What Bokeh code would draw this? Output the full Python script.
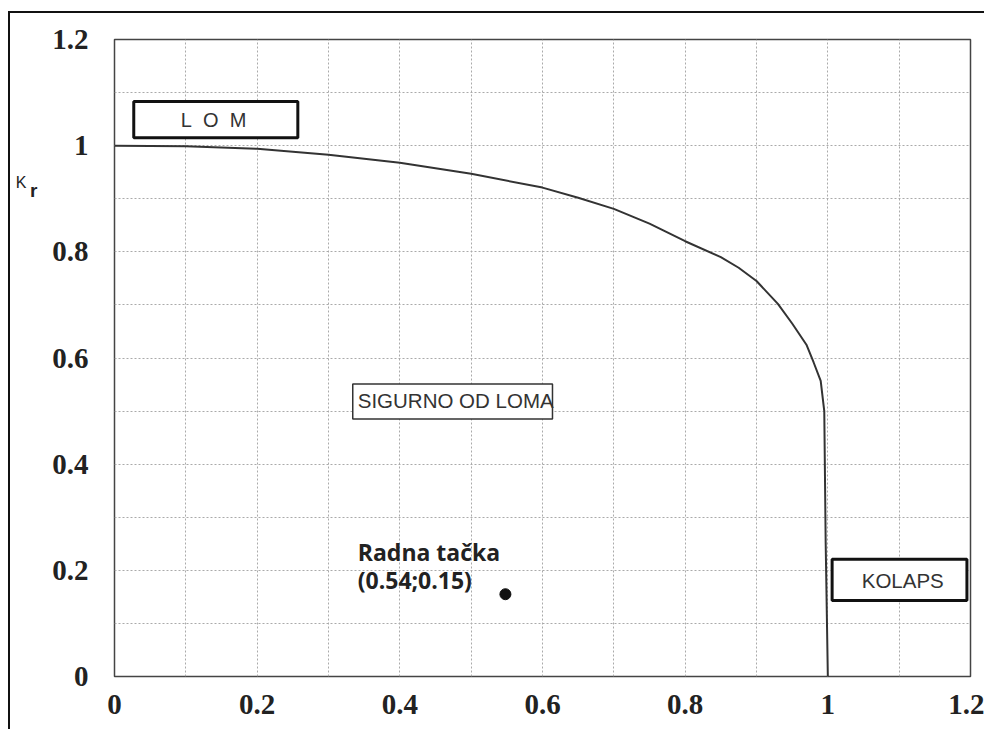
from bokeh.plotting import figure
from bokeh.models import Range1d, FixedTicker, Label, BoxAnnotation, ColumnDataSource, LinearAxis
from bokeh.embed import file_html
from bokeh.resources import INLINE

# Failure assessment curve (Lr, Kr)
lr = [0, 0.1, 0.2, 0.3, 0.4, 0.5, 0.6, 0.65, 0.7, 0.75, 0.8, 0.85, 0.875, 0.9, 0.93, 0.95, 0.97, 0.98, 0.99, 0.995, 0.997, 1.0]
kr = [1.0, 0.999, 0.994, 0.983, 0.968, 0.947, 0.921, 0.902, 0.881, 0.853, 0.82, 0.79, 0.77, 0.745, 0.702, 0.665, 0.625, 0.592, 0.557, 0.50, 0.25, 0.0]

# Working point
pt_x = [0.548]
pt_y = [0.155]

x_ticks = [0, 0.2, 0.4, 0.6, 0.8, 1.0, 1.2]
x_tick_labels = ["0", "0.2", "0.4", "0.6", "0.8", "1", "1.2"]
y_ticks = [0, 0.2, 0.4, 0.6, 0.8, 1.0, 1.2]
y_tick_labels = ["0", "0.2", "0.4", "0.6", "0.8", "1", "1.2"]
minor = [0.1, 0.3, 0.5, 0.7, 0.9, 1.1]

# Position of the "Kr" axis title along the y axis
k_pos = 0.93
r_pos = 0.915

MB_L, MB_R, MB_T, MB_B = 104, 16, 26, 55
W = MB_L + 856 + MB_R
H = MB_T + 637 + MB_B
p = figure(width=W, height=H, output_backend="svg", toolbar_location=None,
           x_range=Range1d(0, 1.2), y_range=Range1d(0, 1.2),
           min_border_left=MB_L, min_border_right=MB_R, min_border_top=MB_T, min_border_bottom=MB_B)
p.styles = {"border-top": "2px solid #111", "border-left": "2px solid #111",
            "margin-left": "8px", "margin-top": "11px"}

p.background_fill_color = "white"
p.border_fill_color = "white"
p.outline_line_color = "#444444"
p.outline_line_width = 1.5

for ax, ticks, labels in ((p.xaxis[0], x_ticks, x_tick_labels), (p.yaxis[0], y_ticks, y_tick_labels)):
    ax.ticker = FixedTicker(ticks=ticks, minor_ticks=minor)
    ax.major_label_overrides = {t: l for t, l in zip(ticks, labels)}
    ax.axis_line_color = None
    ax.major_tick_line_color = None
    ax.minor_tick_line_color = None
    ax.major_tick_out = 0
    ax.minor_tick_out = 0
    ax.major_label_text_font = "Liberation Serif"
    ax.major_label_text_font_style = "bold"
    ax.major_label_text_font_size = "29px"
    ax.major_label_text_color = "#222222"
p.xaxis.major_label_standoff = 18
p.yaxis.major_label_standoff = 26

# Axis title "K" with bold subscript "r": two extra left axes, each with one labelled tick
def title_axis(text, pos, standoff, size, style):
    a = LinearAxis(ticker=FixedTicker(ticks=[pos]), major_label_overrides={pos: text},
                   major_label_standoff=standoff,
                   major_label_text_font="Liberation Sans", major_label_text_font_size=size,
                   major_label_text_font_style=style, major_label_text_color="#222222",
                   axis_line_color=None, major_tick_line_color=None, minor_tick_line_color=None,
                   major_tick_out=0, minor_tick_out=0, major_tick_in=0, minor_tick_in=0)
    p.add_layout(a, "left")

title_axis("r", r_pos, 12, "19px", "bold")
title_axis("K", k_pos, 1, "16px", "normal")

for g in (p.xgrid[0], p.ygrid[0]):
    g.grid_line_color = "#aaaaaa"
    g.grid_line_dash = "2 2"
    g.grid_line_width = 1
    g.minor_grid_line_color = "#aaaaaa"
    g.minor_grid_line_dash = "2 2"
    g.minor_grid_line_width = 1

src = ColumnDataSource(dict(lr=lr, kr=kr))
p.line("lr", "kr", source=src, line_color="#333333", line_width=2)
p.scatter(pt_x, pt_y, size=11, color="#111111")

# Boxes
p.add_layout(BoxAnnotation(left=0.027, right=0.257, bottom=1.015, top=1.083,
                           fill_color="white", fill_alpha=1, line_color="#111111", line_alpha=1, line_width=3))
p.add_layout(BoxAnnotation(left=0.334, right=0.614, bottom=0.485, top=0.551,
                           fill_color="white", fill_alpha=1, line_color="#333333", line_alpha=1, line_width=1.5))
p.add_layout(BoxAnnotation(left=1.006, right=1.195, bottom=0.143, top=0.221,
                           fill_color="white", fill_alpha=1, line_color="#111111", line_alpha=1, line_width=3))

NB = "\u00a0"
p.add_layout(Label(x=0.139, y=1.049, text=f"L{NB}{NB}O{NB}{NB}M", text_align="center", text_baseline="middle",
                   text_font="Liberation Sans", text_font_size="20px", text_color="#333333"))
p.add_layout(Label(x=0.341, y=0.519, text="SIGURNO OD LOMA", text_align="left", text_baseline="middle",
                   text_font="Liberation Sans", text_font_size="20.5px", text_color="#333333"))
p.add_layout(Label(x=1.105, y=0.180, text="KOLAPS", text_align="center", text_baseline="middle",
                   text_font="Liberation Sans", text_font_size="20.5px", text_color="#333333"))
p.add_layout(Label(x=0.341, y=0.235, text="Radna tačka", text_align="left", text_baseline="middle",
                   text_font="Open Sans", text_font_style="bold", text_font_size="23px", text_color="#222222"))
p.add_layout(Label(x=0.341, y=0.181, text="(0.54;0.15)", text_align="left", text_baseline="middle",
                   text_font="Open Sans", text_font_style="bold", text_font_size="23px", text_color="#222222"))

open("out.html", "w").write(file_html(p, INLINE))
